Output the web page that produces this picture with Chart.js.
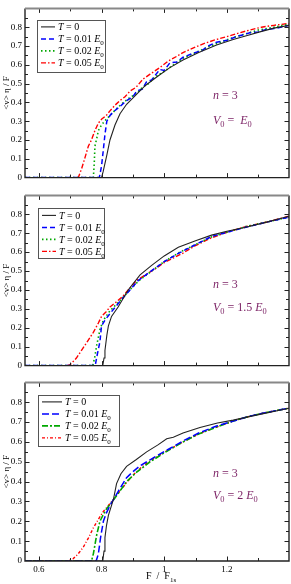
<!DOCTYPE html>
<html><head><meta charset="utf-8">
<script src="https://cdn.jsdelivr.net/npm/chart.js@4/dist/chart.umd.min.js"></script>
<style>
html,body{margin:0;padding:0;background:#fff;width:291px;height:584px;overflow:hidden}
.p{position:absolute;left:0;width:291px}
</style></head><body>
<div class="p" style="top:0;height:186px"><canvas id="c1"></canvas></div>
<div class="p" style="top:187px;height:187px"><canvas id="c2"></canvas></div>
<div class="p" style="top:374px;height:210px"><canvas id="c3"></canvas></div>
<script>
// ---- axis ticks ----
const xTicks = [0.6, 0.8, 1.0, 1.2];
const xMinor = [0.7, 0.9, 1.1, 1.3];
const yTicks = [0, 0.1, 0.2, 0.3, 0.4, 0.5, 0.6, 0.7, 0.8];
const yMinor = [0.05, 0.15, 0.25, 0.35, 0.45, 0.55, 0.65, 0.75, 0.85];
const xMin = 0.556, xMax = 1.398, yMin = 0, yMax = 0.9;

// ---- legend / annotation text ----
const temps = ['0', '0.01', '0.02', '0.05'];
const v0Values = ['', '1.5', '2'];
const nValue = '3';

// ---- panel 1 (V0 = E0) ----
const p1T0x = [0.556, 0.80, 0.805, 0.817, 0.827, 0.843, 0.859, 0.88, 0.91, 0.94, 0.976, 1.018, 1.06, 1.11, 1.167, 1.22, 1.262, 1.305, 1.35, 1.398];
const p1T0y = [0, 0, 0.03, 0.12, 0.20, 0.28, 0.34, 0.39, 0.44, 0.49, 0.535, 0.585, 0.625, 0.665, 0.705, 0.735, 0.755, 0.775, 0.795, 0.81];
const p1T1x = [0.556, 0.793, 0.80, 0.806, 0.811, 0.817, 0.827, 0.838, 0.86, 0.88, 0.90, 0.912, 0.93, 0.944, 0.96, 0.986, 1.0, 1.018, 1.04, 1.06, 1.09, 1.12, 1.14, 1.167, 1.2, 1.23, 1.273, 1.3, 1.33, 1.36, 1.398];
const p1T1y = [0, 0, 0.06, 0.15, 0.23, 0.30, 0.33, 0.35, 0.38, 0.41, 0.43, 0.46, 0.47, 0.51, 0.52, 0.575, 0.57, 0.61, 0.615, 0.64, 0.66, 0.675, 0.70, 0.72, 0.73, 0.75, 0.77, 0.775, 0.79, 0.795, 0.81];
const p1T2x = [0.556, 0.774, 0.777, 0.779, 0.785, 0.79, 0.80, 0.815, 0.827, 0.85, 0.87, 0.89, 0.91, 0.93, 0.95, 0.97, 1.0, 1.03, 1.06, 1.1, 1.14, 1.18, 1.22, 1.26, 1.3, 1.35, 1.398];
const p1T2y = [0, 0, 0.08, 0.167, 0.21, 0.25, 0.28, 0.31, 0.33, 0.37, 0.40, 0.425, 0.445, 0.48, 0.50, 0.535, 0.565, 0.60, 0.635, 0.665, 0.695, 0.72, 0.745, 0.765, 0.785, 0.80, 0.815];
const p1T5x = [0.556, 0.726, 0.737, 0.748, 0.758, 0.768, 0.779, 0.79, 0.80, 0.815, 0.827, 0.843, 0.859, 0.875, 0.891, 0.91, 0.933, 0.955, 0.986, 1.013, 1.04, 1.06, 1.1, 1.13, 1.167, 1.2, 1.24, 1.273, 1.31, 1.35, 1.398];
const p1T5y = [0, 0, 0.05, 0.11, 0.167, 0.20, 0.25, 0.29, 0.31, 0.33, 0.355, 0.385, 0.41, 0.43, 0.46, 0.48, 0.525, 0.55, 0.585, 0.62, 0.645, 0.665, 0.695, 0.715, 0.735, 0.75, 0.77, 0.785, 0.80, 0.81, 0.82];

// ---- panel 2 (V0 = 1.5 E0) ----
const p2T0x = [0.556, 0.804, 0.808, 0.811, 0.817, 0.822, 0.832, 0.853, 0.885, 0.923, 0.96, 1.0, 1.045, 1.1, 1.151, 1.2, 1.257, 1.33, 1.398];
const p2T0y = [0, 0, 0.04, 0.08, 0.16, 0.21, 0.26, 0.31, 0.40, 0.48, 0.53, 0.58, 0.626, 0.66, 0.69, 0.71, 0.73, 0.76, 0.79];
const p2T1x = [0.556, 0.78, 0.785, 0.795, 0.80, 0.811, 0.827, 0.859, 0.896, 0.917, 0.95, 1.0, 1.045, 1.1, 1.151, 1.2, 1.257, 1.33, 1.398];
const p2T1y = [0, 0, 0.046, 0.127, 0.21, 0.24, 0.275, 0.34, 0.41, 0.45, 0.49, 0.55, 0.593, 0.64, 0.683, 0.705, 0.73, 0.76, 0.785];
const p2T2x = [0.556, 0.772, 0.778, 0.785, 0.795, 0.806, 0.827, 0.86, 0.896, 0.92, 0.96, 1.0, 1.05, 1.1, 1.15, 1.2, 1.26, 1.33, 1.398];
const p2T2y = [0, 0, 0.04, 0.11, 0.19, 0.24, 0.29, 0.345, 0.41, 0.45, 0.50, 0.55, 0.60, 0.64, 0.68, 0.705, 0.735, 0.76, 0.785];
const p2T5x = [0.556, 0.69, 0.70, 0.72, 0.742, 0.758, 0.774, 0.79, 0.80, 0.815, 0.827, 0.85, 0.87, 0.89, 0.912, 0.94, 0.97, 1.0, 1.03, 1.06, 1.1, 1.15, 1.2, 1.26, 1.33, 1.398];
const p2T5y = [0, 0, 0.005, 0.04, 0.095, 0.135, 0.176, 0.225, 0.26, 0.285, 0.31, 0.34, 0.37, 0.41, 0.45, 0.48, 0.51, 0.545, 0.57, 0.595, 0.635, 0.675, 0.705, 0.735, 0.76, 0.79];

// ---- panel 3 (V0 = 2 E0) ----
const p3T0x = [0.556, 0.804, 0.808, 0.811, 0.816, 0.822, 0.83, 0.838, 0.848, 0.862, 0.88, 0.91, 0.944, 0.98, 1.008, 1.029, 1.06, 1.114, 1.17, 1.22, 1.305, 1.398];
const p3T0y = [0, 0, 0.05, 0.118, 0.18, 0.23, 0.27, 0.31, 0.39, 0.44, 0.477, 0.51, 0.55, 0.585, 0.616, 0.624, 0.645, 0.673, 0.695, 0.71, 0.739, 0.77];
const p3T1x = [0.556, 0.783, 0.79, 0.797, 0.806, 0.815, 0.827, 0.853, 0.88, 0.90, 0.923, 0.955, 0.976, 1.018, 1.06, 1.11, 1.167, 1.22, 1.273, 1.33, 1.398];
const p3T1y = [0, 0, 0.036, 0.118, 0.20, 0.24, 0.28, 0.35, 0.42, 0.45, 0.48, 0.51, 0.53, 0.567, 0.605, 0.645, 0.68, 0.705, 0.73, 0.75, 0.77];
const p3T2x = [0.556, 0.768, 0.774, 0.78, 0.785, 0.795, 0.806, 0.817, 0.83, 0.853, 0.88, 0.91, 0.955, 1.0, 1.06, 1.11, 1.167, 1.22, 1.273, 1.33, 1.398];
const p3T2y = [0, 0, 0.036, 0.09, 0.134, 0.20, 0.235, 0.265, 0.29, 0.34, 0.40, 0.445, 0.50, 0.545, 0.60, 0.64, 0.675, 0.705, 0.73, 0.75, 0.77];
const p3T5x = [0.556, 0.69, 0.71, 0.725, 0.742, 0.758, 0.774, 0.79, 0.806, 0.822, 0.838, 0.86, 0.88, 0.905, 0.933, 0.96, 0.986, 1.02, 1.06, 1.11, 1.167, 1.22, 1.273, 1.33, 1.398];
const p3T5y = [0, 0, 0.012, 0.035, 0.07, 0.115, 0.167, 0.21, 0.25, 0.28, 0.31, 0.355, 0.395, 0.44, 0.48, 0.51, 0.535, 0.565, 0.60, 0.64, 0.675, 0.705, 0.73, 0.75, 0.77];

const SERIF = '"Liberation Serif", "DejaVu Serif", serif';
const PURPLE = '#7a1f63';
const colors = ['#222222', '#0000ff', '#00a800', '#ff0000'];
const widths = [1.1, 1.5, 1.6, 1.4];

function pts(xs, ys) { return xs.map((x, i) => ({x: x, y: ys[i]})); }

function drawRich(ctx, x, y, parts, size, color) {
  ctx.fillStyle = color;
  ctx.textBaseline = 'alphabetic';
  ctx.textAlign = 'left';
  for (const p of parts) {
    const s = p.sub ? size * 0.7 : size;
    ctx.font = (p.it ? 'italic ' : '') + s + 'px ' + SERIF;
    ctx.fillText(p.t, x, y + (p.sub ? size * 0.28 : 0));
    x += ctx.measureText(p.t).width;
  }
  return x;
}

const panels = [
  {id: 'c1', pt: 1.5, hx: 1.5, showX: false,
   series: [[p1T0x, p1T0y], [p1T1x, p1T1y], [p1T2x, p1T2y], [p1T5x, p1T5y]],
   dashes: [[], [5, 3], [1.5, 2.5], [5, 2, 1.5, 2]],
   legend: {dx: 12, dy: 11.5, w: 68, h: 52, sample: 14}, v0: v0Values[0],
   nY: 99, vY: 124},
  {id: 'c2', pt: 2.5, hx: 1, showX: false,
   series: [[p2T0x, p2T0y], [p2T1x, p2T1y], [p2T2x, p2T2y], [p2T5x, p2T5y]],
   dashes: [[], [5, 3], [1.5, 2.5], [5, 2, 1.5, 2]],
   legend: {dx: 13, dy: 13, w: 66, h: 50, sample: 14}, v0: v0Values[1],
   nY: 287.5 - 187, vY: 311 - 187},
  {id: 'c3', pt: 3.5, hx: 23, showX: true,
   series: [[p3T0x, p3T0y], [p3T1x, p3T1y], [p3T2x, p3T2y], [p3T5x, p3T5y]],
   dashes: [[], [7, 3], [6, 2, 2, 2], [3, 2, 1, 2]],
   legend: {dx: 13, dy: 12.5, w: 81, h: 51, sample: 20}, v0: v0Values[2],
   nY: 476.5 - 374, vY: 499 - 374}
];

const fmt = v => String(Math.round(v * 100) / 100);

const decor = {
  id: 'decor',
  afterDatasetsDraw(chart) {
    const {ctx, chartArea: a, scales: {x, y}} = chart;
    const P = chart.options.plugins.decor.panel;
    ctx.save();
    ctx.strokeStyle = '#222'; ctx.lineWidth = 1; ctx.setLineDash([]);
    const tick = (vals, len) => {
      for (const v of vals) {
        const px = Math.round(x.getPixelForValue(v)) + 0.5;
        ctx.beginPath(); ctx.moveTo(px, a.bottom); ctx.lineTo(px, a.bottom - len);
        ctx.moveTo(px, a.top); ctx.lineTo(px, a.top + len); ctx.stroke();
      }
    };
    const ytick = (vals, len) => {
      for (const v of vals) {
        const py = Math.round(y.getPixelForValue(v)) + 0.5;
        ctx.beginPath(); ctx.moveTo(a.left, py); ctx.lineTo(a.left + len, py);
        ctx.moveTo(a.right, py); ctx.lineTo(a.right - len, py); ctx.stroke();
      }
    };
    tick(xTicks, 4.5); tick(xMinor, 3);
    ytick(yTicks.slice(1), 4.5); ytick(yMinor, 3);
    ctx.lineWidth = 1.4; ctx.strokeStyle = '#222';
    ctx.beginPath();
    ctx.moveTo(a.left, a.top); ctx.lineTo(a.left, a.bottom); ctx.lineTo(a.right, a.bottom); ctx.lineTo(a.right, a.top);
    ctx.stroke();
    ctx.strokeStyle = '#888'; ctx.lineWidth = 2;
    ctx.beginPath(); ctx.moveTo(a.left, a.top); ctx.lineTo(a.right, a.top); ctx.stroke();
    const L = P.legend;
    const lx = a.left + L.dx, ly = a.top + L.dy;
    ctx.fillStyle = '#fff'; ctx.fillRect(lx, ly, L.w, L.h);
    ctx.strokeStyle = '#555'; ctx.lineWidth = 1;
    ctx.strokeRect(Math.round(lx) + 0.5, Math.round(ly) + 0.5, L.w, L.h);
    chart.data.datasets.forEach((ds, i) => {
      const ry = ly + 7 + i * 12;
      ctx.strokeStyle = ds.borderColor; ctx.lineWidth = ds.borderWidth;
      ctx.setLineDash(ds.borderDash || []);
      ctx.beginPath(); ctx.moveTo(lx + 4, ry); ctx.lineTo(lx + 4 + L.sample, ry); ctx.stroke();
      ctx.setLineDash([]);
      const parts = [{t: 'T', it: true}, {t: ' = ' + temps[i]}];
      if (temps[i] !== '0') { parts.push({t: ' '}); parts.push({t: 'E', it: true}); parts.push({t: '0', sub: true}); }
      drawRich(ctx, lx + L.sample + 7, ry + 3.5, parts, 10, '#000');
    });
    const ax = 213;
    drawRich(ctx, ax, P.nY, [{t: 'n', it: true}, {t: ' = ' + nValue}], 12, PURPLE);
    const vparts = [{t: 'V', it: true}, {t: '0', sub: true}, {t: ' = '}];
    if (P.v0) vparts.push({t: P.v0 + ' '}); else vparts.push({t: ' '});
    vparts.push({t: 'E', it: true}); vparts.push({t: '0', sub: true});
    drawRich(ctx, ax, P.vY, vparts, 12, PURPLE);
    if (P.showX) {
      let xx = 146;
      xx = drawRich(ctx, xx, 205, [{t: 'F  /  F'}], 10, '#000');
      drawRich(ctx, xx, 205, [{t: '1s', sub: true}], 10, '#000');
    }
    ctx.restore();
  }
};

for (const P of panels) {
  const datasets = P.series.map((s, i) => ({
    label: 'T = ' + temps[i],
    data: pts(s[0], s[1]),
    borderColor: colors[i],
    borderWidth: widths[i],
    borderDash: P.dashes[i],
    pointRadius: 0,
    fill: false,
    tension: 0
  }));
  new Chart(document.getElementById(P.id), {
    type: 'line',
    data: {datasets},
    options: {
      responsive: true, maintainAspectRatio: false, animation: false,
      layout: {padding: {top: P.pt, right: 2, left: 0, bottom: 0}},
      plugins: {legend: {display: false}, tooltip: {enabled: false}, decor: {panel: P}},
      scales: {
        x: {
          type: 'linear', min: xMin, max: xMax,
          afterBuildTicks: s => { s.ticks = xTicks.map(v => ({value: v})); },
          afterFit: s => { s.height = P.hx; },
          grid: {display: false, drawTicks: false},
          border: {display: false},
          ticks: {display: P.showX, padding: 3, color: '#000', font: {family: SERIF, size: 9}, callback: v => fmt(v), maxRotation: 0, autoSkip: false}
        },
        y: {
          type: 'linear', min: yMin, max: yMax,
          afterBuildTicks: s => { s.ticks = yTicks.map(v => ({value: v})); },
          afterFit: s => { s.width = 25; },
          grid: {display: false, drawTicks: false},
          border: {display: false},
          title: {display: true, text: '<v> η / F', color: '#000', font: {family: SERIF, size: 9}, padding: {top: 1, bottom: 0}},
          ticks: {padding: 3, color: '#000', font: {family: SERIF, size: 9}, callback: v => fmt(v), autoSkip: false}
        }
      }
    },
    plugins: [decor]
  });
}
</script>
</body></html>
